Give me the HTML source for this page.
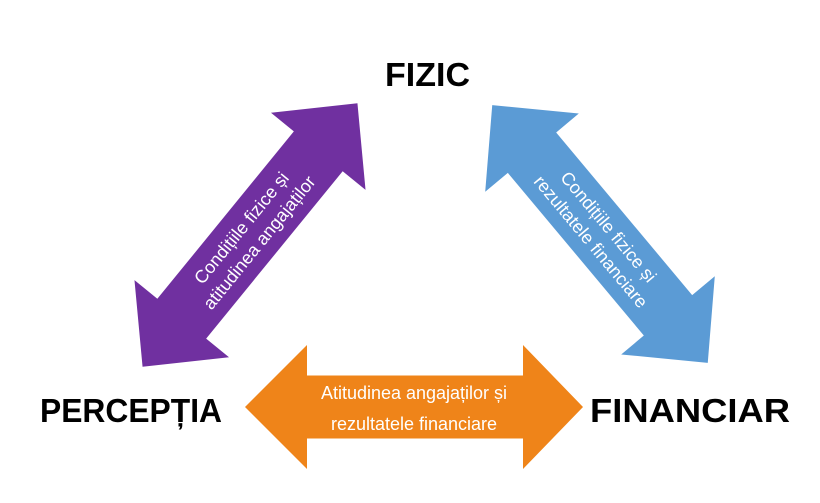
<!DOCTYPE html>
<html><head><meta charset="utf-8"><style>
html,body{margin:0;padding:0;background:#fff;}
svg{display:block}
.lbl{font-family:"Liberation Sans",sans-serif;font-weight:bold;font-size:33px;fill:#000}
.t{font-family:"Liberation Sans",sans-serif;font-size:18px;fill:#fff;text-anchor:middle}
</style></head><body>
<svg width="820" height="503" viewBox="0 0 820 503" xmlns="http://www.w3.org/2000/svg">
<rect width="820" height="503" fill="#fff"/>
<g transform="translate(250,235) rotate(-50.8)">
<polygon points="-170,0 -108,-61 -108,-31.5 108,-31.5 108,-61 170,0 108,61 108,31.5 -108,31.5 -108,61" fill="#7030a0"/>
<text class="t" x="0" y="-5">Condițiile fizice și</text>
<text class="t" x="0" y="18">atitudinea angajaților</text>
</g>
<g transform="translate(600,234) rotate(50.1)">
<polygon points="-168,0 -106,-61 -106,-31.5 106,-31.5 106,-61 168,0 106,61 106,31.5 -106,31.5 -106,61" fill="#5b9bd5"/>
<text class="t" x="0" y="-5">Condițiile fizice și</text>
<text class="t" x="0" y="18">rezultatele financiare</text>
</g>
<g transform="translate(414,407)">
<polygon points="-169,0 -107,-62 -107,-31.5 109,-31.5 109,-62 169,0 109,62 109,31.5 -107,31.5 -107,62" fill="#ef8419"/>
<text class="t" x="0" y="-8">Atitudinea angajaților și</text>
<text class="t" x="0" y="23">rezultatele financiare</text>
</g>
<text class="lbl" x="385" y="86" textLength="85" lengthAdjust="spacingAndGlyphs">FIZIC</text>
<text class="lbl" x="40" y="422" textLength="182" lengthAdjust="spacingAndGlyphs">PERCEPȚIA</text>
<text class="lbl" x="590" y="422" textLength="200" lengthAdjust="spacingAndGlyphs">FINANCIAR</text>
</svg>
</body></html>
